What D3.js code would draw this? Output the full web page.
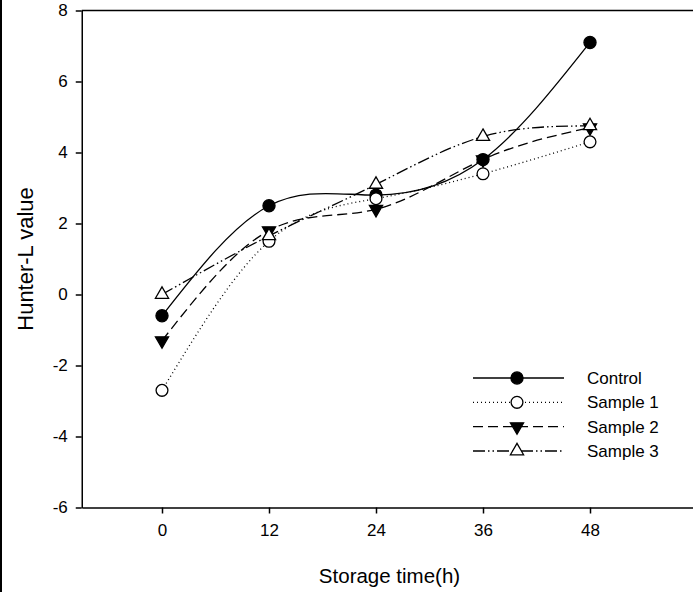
<!DOCTYPE html>
<html>
<head>
<meta charset="utf-8">
<script src="https://cdn.jsdelivr.net/npm/d3@7"></script>
<style>
  body { margin: 0; background: #fff; }
  svg { display: block; font-family: "Liberation Sans", Arial, sans-serif; }
</style>
</head>
<body>
<svg id="chart" width="693" height="592"></svg>
<script>
// values
const hours = [0, 12, 24, 36, 48];
const controlValues = [-0.6, 2.5, 2.8, 3.8, 7.1];
const sample1Values = [-2.7, 1.5, 2.7, 3.4, 4.3];
const sample2Values = [-1.3, 1.8, 2.4, 3.8, 4.7];
const sample3Values = [0.0, 1.65, 3.1, 4.45, 4.75];
const seriesNames = ['Control', 'Sample 1', 'Sample 2', 'Sample 3'];
const xTicks = [0, 12, 24, 36, 48];
const yTicks = [-6, -4, -2, 0, 2, 4, 6, 8];

function HunterChart(svg) {
    this.svg = svg;
    this.width = 693;
    this.height = 592;
    this.x = d3.scaleLinear().domain([-9, 60]).range([81.75, 697]);
    this.y = d3.scaleLinear().domain([-6, 8]).range([507.5, 10.5]);
    this.styles = [
        { dash: null, symbol: d3.symbolCircle, size: 115, fill: '#000', rotate: 0 },
        { dash: '1,3', symbol: d3.symbolCircle, size: 110, fill: '#fff', rotate: 0 },
        { dash: '10,5', symbol: d3.symbolTriangle, size: 75, fill: '#000', rotate: 180 },
        { dash: '12,3,1.5,3,1.5,3', symbol: d3.symbolTriangle, size: 75, fill: '#fff', rotate: 0 }
    ];
}

HunterChart.prototype.drawAxes = function () {
    var _this = this;
    // frame edge on the left of the picture
    _this.svg.append('line')
        .attr('x1', 1).attr('x2', 1).attr('y1', 0).attr('y2', _this.height)
        .style('stroke', '#000').style('stroke-width', 2);

    let plain = function (d) { return String(d); };
    let yAxis = _this.svg.append('g')
        .attr('transform', 'translate(' + _this.x(-9) + ',0)')
        .call(d3.axisLeft(_this.y).tickValues(yTicks).tickFormat(plain)
            .tickSize(6).tickPadding(8).tickSizeOuter(0));
    let xAxis = _this.svg.append('g')
        .attr('transform', 'translate(0,' + _this.y(-6) + ')')
        .call(d3.axisBottom(_this.x).tickValues(xTicks).tickFormat(plain)
            .tickSize(6).tickPadding(10).tickSizeOuter(0));
    // top spine
    _this.svg.append('line')
        .attr('x1', _this.x(-9)).attr('x2', _this.width)
        .attr('y1', _this.y(8)).attr('y2', _this.y(8))
        .style('stroke', '#000').style('stroke-width', 1.5);

    [xAxis, yAxis].forEach(function (a) {
        a.selectAll('path, line').style('stroke', '#000').style('stroke-width', 1.5);
        a.selectAll('text').style('font-size', '17px').style('fill', '#000')
            .style('font-family', '"Liberation Sans", Arial, sans-serif');
    });

    _this.svg.append('text')
        .attr('x', 389.5).attr('y', 583)
        .attr('text-anchor', 'middle')
        .style('font-size', '20.5px')
        .text('Storage time(h)');
    _this.svg.append('text')
        .attr('transform', 'translate(33,259) rotate(-90)')
        .attr('text-anchor', 'middle')
        .style('font-size', '22px')
        .text('Hunter-L value');
};

HunterChart.prototype.drawSeries = function () {
    var _this = this;
    let allValues = [controlValues, sample1Values, sample2Values, sample3Values];
    let line = d3.line()
        .x(function (d) { return _this.x(d[0]); })
        .y(function (d) { return _this.y(d[1]); })
        .curve(d3.curveNatural);

    allValues.forEach(function (vals, i) {
        let st = _this.styles[i];
        let pts = d3.zip(hours, vals);
        _this.svg.append('path')
            .datum(pts)
            .attr('d', line)
            .style('fill', 'none')
            .style('stroke', '#000')
            .style('stroke-width', 1.3)
            .style('stroke-dasharray', st.dash);
    });

    allValues.forEach(function (vals, i) {
        let st = _this.styles[i];
        _this.svg.append('g').selectAll('path')
            .data(d3.zip(hours, vals))
            .enter()
            .append('path')
            .attr('d', d3.symbol().type(st.symbol).size(st.size))
            .attr('transform', function (d) {
                return 'translate(' + _this.x(d[0]) + ',' + _this.y(d[1]) + ') rotate(' + st.rotate + ')';
            })
            .style('fill', st.fill)
            .style('stroke', '#000')
            .style('stroke-width', 1.3);
    });
};

HunterChart.prototype.drawLegend = function () {
    var _this = this;
    let legend = _this.svg.append('g').attr('class', 'legend');
    let rowY = d3.scalePoint().domain(seriesNames).range([378, 451]);
    seriesNames.forEach(function (name, i) {
        let st = _this.styles[i];
        let yy = rowY(name);
        legend.append('line')
            .attr('x1', 473).attr('x2', 564).attr('y1', yy).attr('y2', yy)
            .style('stroke', '#000').style('stroke-width', 1.3)
            .style('stroke-dasharray', st.dash);
        legend.append('path')
            .attr('d', d3.symbol().type(st.symbol).size(st.size))
            .attr('transform', 'translate(517,' + yy + ') rotate(' + st.rotate + ')')
            .style('fill', st.fill).style('stroke', '#000').style('stroke-width', 1.3);
        legend.append('text')
            .attr('x', 587).attr('y', yy)
            .attr('dy', '0.35em')
            .style('font-size', '17px')
            .text(name);
    });
};

let chart = new HunterChart(d3.select('#chart'));
chart.drawAxes();
chart.drawSeries();
chart.drawLegend();
</script>
</body>
</html>
